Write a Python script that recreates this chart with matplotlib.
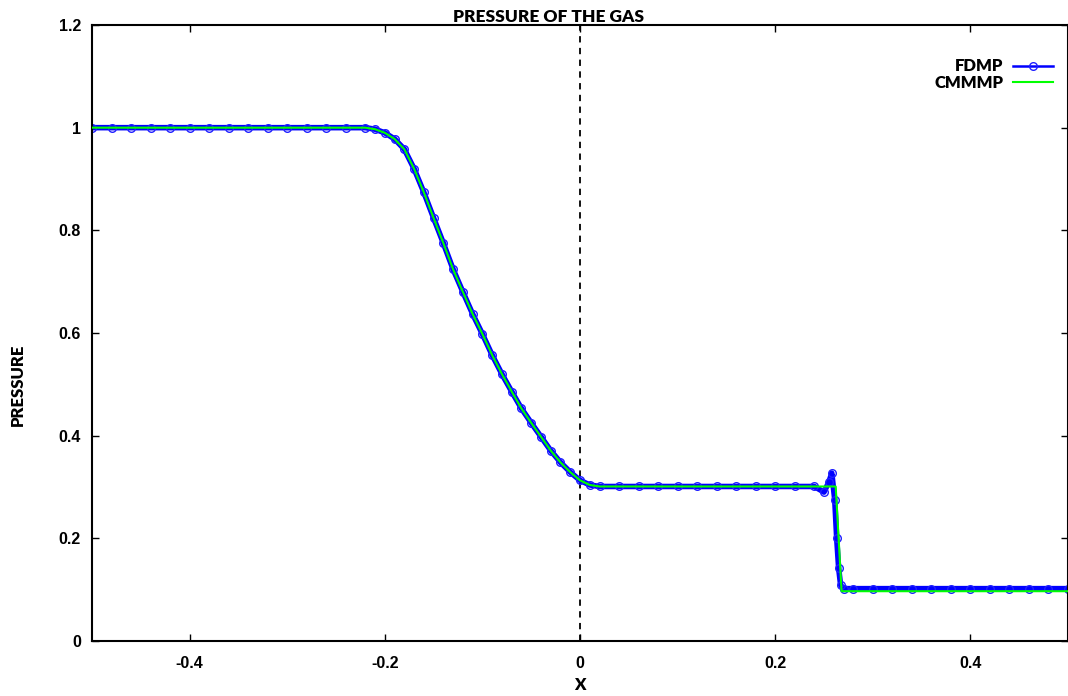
import matplotlib
matplotlib.use('Agg')
import matplotlib.pyplot as plt

# FDMP (blue, with markers)
x_fdmp = [-0.5, -0.48, -0.46, -0.44, -0.42, -0.4, -0.38, -0.36, -0.34, -0.32, -0.3,
          -0.28, -0.26, -0.24, -0.22,
          -0.21, -0.2, -0.19, -0.18, -0.17, -0.16, -0.15, -0.14, -0.13, -0.12, -0.11,
          -0.1, -0.09, -0.08, -0.07, -0.06, -0.05, -0.04, -0.03, -0.02, -0.01, 0.0,
          0.01, 0.02, 0.04, 0.06, 0.08, 0.1, 0.12, 0.14, 0.16, 0.18, 0.2, 0.22, 0.24,
          0.25, 0.255, 0.258, 0.261, 0.263, 0.265, 0.267, 0.27,
          0.28, 0.3, 0.32, 0.34, 0.36, 0.38, 0.4, 0.42, 0.44, 0.46, 0.48, 0.5]
p_fdmp = [1.0, 1.0, 1.0, 1.0, 1.0, 1.0, 1.0, 1.0, 1.0, 1.0, 1.0,
          1.0, 1.0, 1.0, 1.0,
          0.997, 0.99, 0.978, 0.958, 0.92, 0.874, 0.824, 0.775, 0.724, 0.68, 0.637,
          0.598, 0.557, 0.52, 0.486, 0.453, 0.425, 0.398, 0.371, 0.348, 0.329, 0.313,
          0.304, 0.301, 0.301, 0.301, 0.301, 0.301, 0.301, 0.301, 0.301, 0.301, 0.301, 0.301, 0.301,
          0.29, 0.31, 0.327, 0.275, 0.2, 0.142, 0.109, 0.102,
          0.102, 0.102, 0.102, 0.102, 0.102, 0.102, 0.102, 0.102, 0.102, 0.102, 0.102, 0.102]

# CMMMP (green line)
x_cm = [-0.5, -0.22, -0.21, -0.2, -0.19, -0.18, -0.17, -0.16, -0.15, -0.14, -0.13,
        -0.12, -0.11, -0.1, -0.09, -0.08, -0.07, -0.06, -0.05, -0.04, -0.03, -0.02,
        -0.01, 0.0, 0.01, 0.02, 0.262, 0.268, 0.5]
p_cm = [1.0, 1.0, 0.997, 0.99, 0.978, 0.958, 0.92, 0.874, 0.824, 0.775, 0.724,
        0.68, 0.637, 0.598, 0.557, 0.52, 0.486, 0.453, 0.425, 0.398, 0.371, 0.348,
        0.329, 0.313, 0.304, 0.301, 0.301, 0.097, 0.097]

xticks = [-0.4, -0.2, 0, 0.2, 0.4]
xlabels = ['-0.4', '-0.2', '0', '0.2', '0.4']
yticks = [0, 0.2, 0.4, 0.6, 0.8, 1.0, 1.2]
ylabels = ['0', '0.2', '0.4', '0.6', '0.8', '1', '1.2']

fig = plt.figure(figsize=(10.68, 6.96), dpi=100)
ax = fig.add_axes([92 / 1068, 1 - 641 / 696, 1 - 92 / 1068, (641 - 25) / 696])

ax.axvline(0, color='black', linestyle=(0, (3.5, 3)), linewidth=1.3, zorder=1)
ax.plot(x_fdmp, p_fdmp, color='#0000ff', linewidth=4, marker='o', markersize=5.5,
        markerfacecolor='none', markeredgecolor='#2020ff', markeredgewidth=1,
        label='FDMP', zorder=2)
ax.plot(x_cm, p_cm, color='#00ff00', linewidth=1.5, label='CMMMP', zorder=3)

ax.set_xlim(-0.5, 0.5)
ax.set_ylim(0, 1.2)
ax.set_xticks(xticks)
ax.set_xticklabels(xlabels)
ax.set_yticks(yticks)
ax.set_yticklabels(ylabels)
ax.tick_params(direction='in', length=5, width=1, top=True, right=True)
ax.tick_params(axis='x', pad=11)
ax.tick_params(axis='y', pad=8)
for lab in ax.get_xticklabels() + ax.get_yticklabels():
    lab.set_fontfamily('Liberation Sans')
    lab.set_fontweight('bold')
    lab.set_fontsize(11.5)
for sp in ax.spines.values():
    sp.set_linewidth(1.5)

ax.set_title('PRESSURE OF THE GAS', fontfamily='Lato', fontweight='heavy',
             fontsize=12.5, pad=2, x=0.468)
ax.set_xlabel('X', fontfamily='Lato', fontweight='heavy', fontsize=12)
ax.xaxis.set_label_coords(0.5, -0.059)
ax.set_ylabel('PRESSURE', fontfamily='Lato', fontweight='heavy', fontsize=12)
ax.yaxis.set_label_coords(-0.068, 0.416)

leg = ax.legend(loc='upper right', bbox_to_anchor=(1.0, 0.97), frameon=False,
                markerfirst=False, handlelength=2.4, handletextpad=0.6,
                labelspacing=0.05, prop={'family': 'Lato', 'weight': 'heavy', 'size': 12})
leg.get_lines()[0].set_linewidth(1.8)

fig.savefig('out.png', dpi=100)
